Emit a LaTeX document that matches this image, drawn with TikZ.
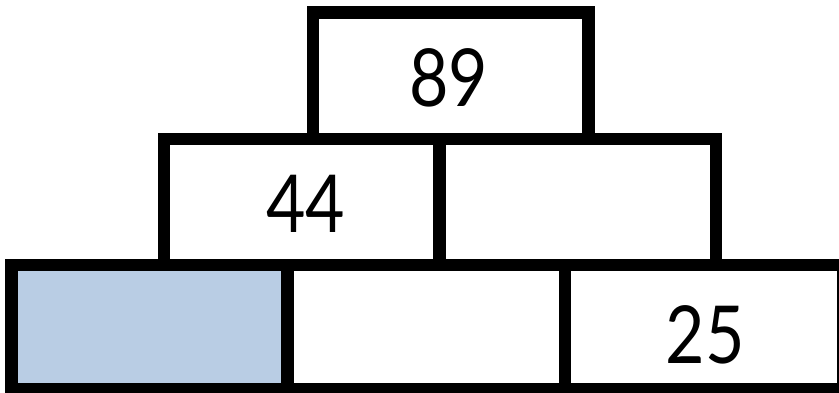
\documentclass[tikz,border=0pt]{standalone}
\usepackage{fontspec}
\newfontfamily\digitfont{Lato}[FakeStretch=0.85]
\definecolor{cellblue}{RGB}{185,205,228}
\begin{document}
\begin{tikzpicture}[x=1pt,y=-1pt,
  cell/.style={draw=black, line width=12.5pt, rectangle, inner sep=0pt, outer sep=0pt, miter limit=10},
  num/.style={font=\digitfont\fontsize{80}{80}\selectfont, inner sep=0pt},
  ]
\fill[white] (0,0) rectangle (839,392);
\useasboundingbox (0,0) rectangle (839,392);
% bottom row
\node[cell, fill=cellblue, minimum width=276pt, minimum height=124pt] (c1) at (149.3,327) {};
\node[cell, minimum width=277.7pt, minimum height=124pt] (c2) at (426.2,327) {};
\node[cell, minimum width=278pt, minimum height=124pt] (c3) at (704,327) {};
% middle row
\node[cell, minimum width=275.5pt, minimum height=126pt] (b1) at (301.7,202) {};
\node[cell, minimum width=276.5pt, minimum height=126pt] (b2) at (577.7,202) {};
% top
\node[cell, minimum width=275.5pt, minimum height=126.5pt] (a1) at (450.7,75.7) {};
% labels
\node[num] (t89) at ([xshift=-2pt,yshift=-2.5pt]a1.center) {89};
\node[num] (t44) at ([xshift=4pt,yshift=-2pt]b1.center) {44};
\node[num] (t25) at ([xshift=1pt,yshift=-7.5pt]c3.center) {25};
\end{tikzpicture}
\end{document}
